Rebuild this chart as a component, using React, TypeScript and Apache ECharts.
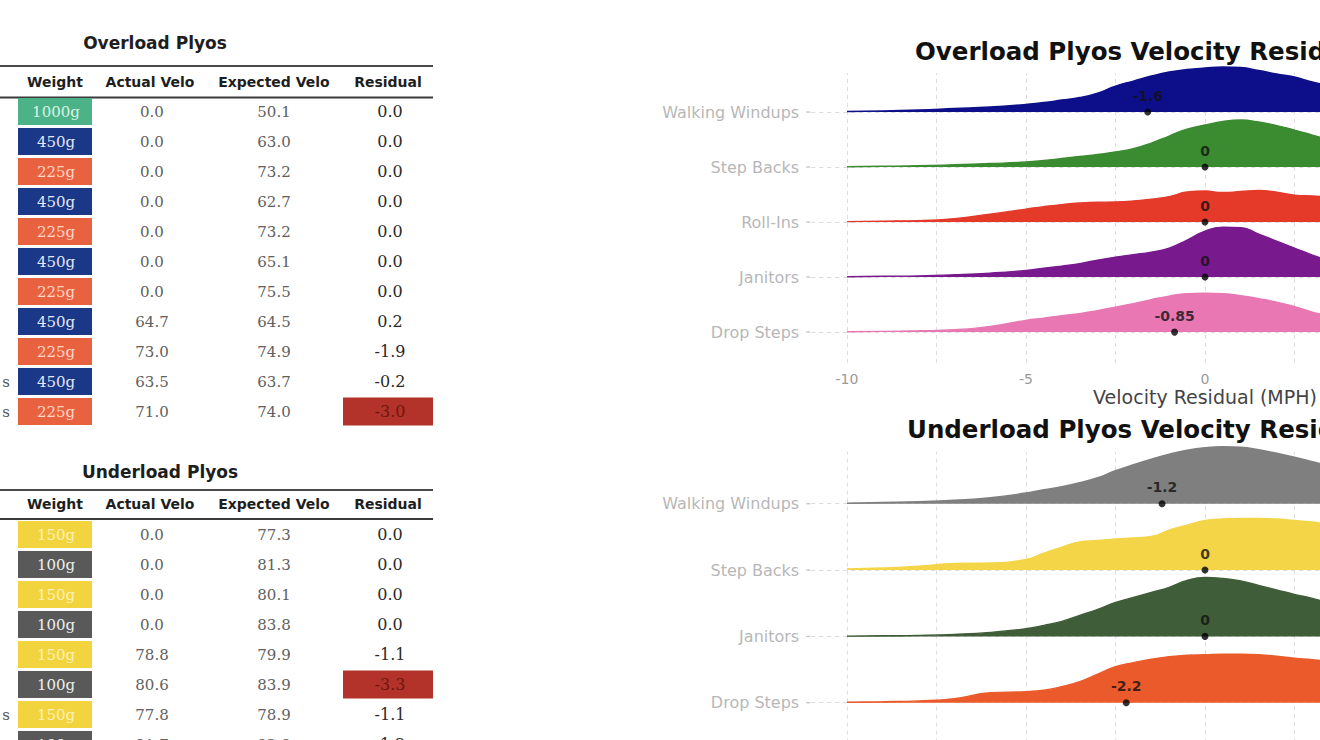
import React, { useEffect, useRef } from "react";
import * as echarts from "echarts";

// ---------------- Table data ----------------
const TABLE_HEADERS = ["Weight", "Actual Velo", "Expected Velo", "Residual"];

const OVER_TABLE_TITLE = "Overload Plyos";
// only the last letter of the row labels is inside the picture
const OVER_ROW_LABELS = ["", "", "", "", "", "", "", "", "", "s", "s"];
const OVER_WEIGHTS = ["1000g", "450g", "225g", "450g", "225g", "450g", "225g", "450g", "225g", "450g", "225g"];
const OVER_ACTUAL = [0, 0, 0, 0, 0, 0, 0, 64.7, 73.0, 63.5, 71.0];
const OVER_EXPECTED = [50.1, 63.0, 73.2, 62.7, 73.2, 65.1, 75.5, 64.5, 74.9, 63.7, 74.0];
const OVER_RESIDUAL = [0, 0, 0, 0, 0, 0, 0, 0.2, -1.9, -0.2, -3.0];

const UNDER_TABLE_TITLE = "Underload Plyos";
const UNDER_ROW_LABELS = ["", "", "", "", "", "", "s", "s"];
const UNDER_WEIGHTS = ["150g", "100g", "150g", "100g", "150g", "100g", "150g", "100g"];
const UNDER_ACTUAL = [0, 0, 0, 0, 78.8, 80.6, 77.8, 81.7];
const UNDER_EXPECTED = [77.3, 81.3, 80.1, 83.8, 79.9, 83.9, 78.9, 82.9];
const UNDER_RESIDUAL = [0, 0, 0, 0, -1.1, -3.3, -1.1, -1.2];

// ---------------- Ridgeline data ----------------
const DENSITY_X = [-10, -9, -8, -7, -6, -5, -4.5, -4, -3.5, -3, -2.5, -2, -1.5, -1, -0.5, 0, 0.5, 1, 1.5, 2, 2.5, 3, 3.5, 4, 5, 6, 7, 8, 9, 10];
const X_GRID_LINES = [-10, -7.5, -5, -2.5, 0, 2.5, 5, 7.5, 10];

const OVER_TITLE = "Overload Plyos Velocity Residuals";
const OVER_DRILLS = ["Walking Windups", "Step Backs", "Roll-Ins", "Janitors", "Drop Steps"];
const OVER_MEANS = [-1.6, 0, 0, 0, -0.85];
const OVER_WALKING = [0.5, 1, 2, 3.5, 5, 7.7, 9.5, 12, 14.5, 19, 26, 31, 36, 40, 42.5, 44, 45, 44.5, 41.5, 38, 35, 30, 26, 21, 12, 6, 2.5, 1, 0.5, 0.2];
const OVER_STEPBACKS = [0.3, 0.8, 1.3, 2.3, 3.5, 5, 6.5, 8.5, 10.5, 12.5, 15, 18.5, 24, 31, 38, 42, 45.5, 47, 45, 41.5, 37, 32, 27, 22, 13, 7, 3, 1.2, 0.5, 0.2];
const OVER_ROLLINS = [0.5, 1, 1.5, 3.5, 8, 13, 15.5, 17.5, 19, 19.8, 20, 21, 23, 25.5, 30, 31, 29.5, 30.5, 31.5, 30, 27, 26, 25, 22, 15, 8, 3.5, 1.5, 0.5, 0.2];
const OVER_JANITORS = [0.3, 0.8, 1.2, 2.3, 4, 6.7, 9, 11, 13.5, 17, 20, 22.5, 25, 29, 37, 46, 50, 49.5, 43, 36, 29, 22, 16, 11, 5, 2, 1, 0.5, 0.3, 0.1];
const OVER_DROPSTEPS = [0.3, 0.7, 1.3, 2.3, 5.7, 11.7, 14, 16.5, 18.5, 21.5, 25, 28.5, 32.5, 36, 38.5, 39, 38.5, 36.5, 33.5, 30, 25.5, 20, 16, 12, 6, 2.5, 1, 0.5, 0.2, 0.1];

const UNDER_TITLE = "Underload Plyos Velocity Residuals";
const UNDER_DRILLS = ["Walking Windups", "Step Backs", "Janitors", "Drop Steps"];
const UNDER_MEANS = [-1.2, 0, 0, -2.2];
const UNDER_WALKING = [0.5, 1.2, 2, 3.5, 6, 10.7, 14, 17, 21, 26, 33, 39, 44.5, 49.5, 53.5, 56, 57, 56.5, 54, 50.5, 46.5, 42, 37, 31, 20, 11, 5, 2, 0.8, 0.3];
const UNDER_STEPBACKS = [1, 2, 3.8, 6.5, 7, 10.7, 17, 23, 28, 29.5, 31, 32, 33.5, 40, 45, 49.5, 51, 51.5, 51.5, 51, 49.5, 48, 45, 41, 30, 19, 10, 4, 1.5, 0.5];
const UNDER_JANITORS = [0.3, 0.6, 1, 2, 4, 7.7, 11, 15, 21, 27, 34, 39, 44, 49, 56, 59, 58, 55.5, 51, 46.5, 42, 38, 33, 28, 18, 10, 4.5, 1.8, 0.7, 0.3];
const UNDER_DROPSTEPS = [0.5, 1, 1.8, 4, 10, 11, 12.5, 16, 21, 28.5, 36, 40, 43.5, 46, 47.5, 48, 48.5, 48.5, 48, 46.5, 44.5, 43, 41, 38, 29, 19, 10, 4, 1.5, 0.5];

const X_AXIS_NAME = "Velocity Residual (MPH)";

// ---------------- Styles ----------------
const WEIGHT_FILL: Record<string, string> = {
  "1000g": "#4bb387",
  "450g": "#1a3788",
  "225g": "#e8623f",
  "150g": "#f2d43f",
  "100g": "#595959",
};
const WEIGHT_TEXT: Record<string, string> = {
  "1000g": "#d9f3e6",
  "450g": "#e4e8f6",
  "225g": "#ffd6c8",
  "150g": "#fff2b5",
  "100g": "#eeeeee",
};
const OVER_COLORS = ["#0d0f8a", "#3b8b31", "#e5392a", "#79198e", "#e877b3"];
const UNDER_COLORS = ["#7f7f7f", "#f4d547", "#3f5d38", "#eb5a2a"];

const SANS = '"DejaVu Sans", "Noto Sans", sans-serif';
const NUM = '"DejaVu Serif", serif';

type TableLayout = {
  titleX: number;
  titleY: number;
  ruleTop: number;
  headerY: number;
  ruleBottom: number;
  row0: number;
};

function txt(text: string, x: number, y: number, font: string, fill: string, align = "center") {
  return {
    type: "text",
    silent: true,
    z: 50,
    style: {
      text,
      x,
      y,
      font,
      fill,
      align,
      textAlign: align,
      verticalAlign: "middle",
      textVerticalAlign: "middle",
    },
  };
}

function tableElements(
  title: string,
  lay: TableLayout,
  labels: string[],
  weights: string[],
  actual: number[],
  expected: number[],
  residual: number[]
) {
  const els: any[] = [];
  const colX = [55, 152, 274, 390];
  els.push(txt(title, lay.titleX, lay.titleY, `bold 17px ${SANS}`, "#1e1e1e"));
  els.push({ type: "line", silent: true, shape: { x1: 0, y1: lay.ruleTop, x2: 433, y2: lay.ruleTop }, style: { stroke: "#4a4a4a", lineWidth: 2 } });
  TABLE_HEADERS.forEach((h, i) => els.push(txt(h, i === 3 ? 388 : i === 1 ? 150 : colX[i], lay.headerY, `bold 14px ${SANS}`, "#1e1e1e")));
  els.push({ type: "line", silent: true, shape: { x1: 0, y1: lay.ruleBottom, x2: 433, y2: lay.ruleBottom }, style: { stroke: "#3a3a3a", lineWidth: 2 } });
  weights.forEach((w, i) => {
    const yc = lay.row0 + i * 30;
    if (labels[i]) els.push(txt(labels[i], 6, yc, `15px ${NUM}`, "#555"));
    els.push({ type: "rect", silent: true, shape: { x: 18, y: yc - 13.5, width: 74, height: 27 }, style: { fill: WEIGHT_FILL[w] } });
    els.push(txt(w, 56, yc, `15px ${NUM}`, WEIGHT_TEXT[w]));
    els.push(txt(actual[i].toFixed(1), colX[1], yc, `15px ${NUM}`, "#606060"));
    els.push(txt(expected[i].toFixed(1), colX[2], yc, `15px ${NUM}`, "#606060"));
    const hi = residual[i] <= -3;
    if (hi) {
      els.push({ type: "rect", silent: true, shape: { x: 343, y: yc - 14, width: 90, height: 28 }, style: { fill: "#b3332a" } });
    }
    els.push(txt(residual[i].toFixed(1), colX[3], yc, `16px ${NUM}`, hi ? "#6e1710" : "#2a2a2a"));
  });
  return els;
}

function ridgeSeries(gridIdx: number, drills: string[], dens: number[][], colors: string[], means: number[], scale: number) {
  const n = drills.length;
  const series: any[] = [];
  series.push({
    type: "scatter",
    xAxisIndex: gridIdx,
    yAxisIndex: gridIdx,
    data: [],
    silent: true,
    z: 1,
    markLine: {
      silent: true,
      z: 1,
      symbol: ["none", "none"],
      label: { show: false },
      lineStyle: { color: "#dcdcdc", type: [4, 4], width: 1 },
      data: [
        ...X_GRID_LINES.map((v) => ({ xAxis: v })),
        ...drills.map((_, i) => ({ yAxis: n - 1 - i })),
      ],
    },
  });
  drills.forEach((d, i) => {
    const base = n - 1 - i;
    series.push({
      type: "line",
      name: d,
      xAxisIndex: gridIdx,
      yAxisIndex: gridIdx,
      data: DENSITY_X.map((x, k) => [x, base + dens[i][k] / scale]),
      smooth: 0.5,
      symbol: "none",
      showSymbol: false,
      silent: true,
      clip: false,
      lineStyle: { color: colors[i], width: 1.4 },
      areaStyle: { color: colors[i], opacity: 1, origin: base },
      z: 10 + i,
    });
  });
  series.push({
    type: "scatter",
    xAxisIndex: gridIdx,
    yAxisIndex: gridIdx,
    silent: true,
    clip: false,
    data: drills.map((d, i) => ({ value: [-11, n - 1 - i], name: d })),
    symbol: "rect",
    symbolSize: [4, 1.3],
    symbolOffset: [-3, 0],
    itemStyle: { color: "#b5b5b5" },
    label: {
      show: true,
      position: "left",
      distance: 7,
      formatter: (p: any) => p.name,
      color: "#a3a3a3",
      fontSize: 16,
      fontFamily: SANS,
    },
    z: 30,
  });
  series.push({
    type: "scatter",
    xAxisIndex: gridIdx,
    yAxisIndex: gridIdx,
    silent: true,
    clip: false,
    data: means.map((m, i) => [m, n - 1 - i]),
    symbolSize: 7,
    itemStyle: { color: "#000" },
    label: {
      show: true,
      position: "top",
      distance: 6,
      formatter: (p: any) => String(p.value[0]),
      color: "#111",
      fontWeight: "bold",
      fontSize: 14,
      fontFamily: SANS,
    },
    z: 40,
  });
  return series;
}

function xAxisCfg(gridIndex: number) {
  return {
    gridIndex,
    type: "value",
    min: -11,
    max: 11,
    axisLine: { show: false },
    axisTick: { show: false },
    splitLine: { show: false },
    axisLabel: {
      color: "#9a9a9a",
      fontSize: 14,
      fontFamily: SANS,
      margin: 9,
      formatter: (v: number) => (Math.abs(v) > 10 ? "" : String(v)),
    },
    name: X_AXIS_NAME,
    nameLocation: "middle",
    nameGap: 25,
    nameTextStyle: { color: "#444", fontSize: 19, fontFamily: SANS },
  };
}

export default function App() {
  const ref = useRef<HTMLDivElement>(null);

  useEffect(() => {
    if (!ref.current) return;
    const chart = echarts.init(ref.current, undefined, { renderer: "svg" });

    const graphics = [
      ...tableElements(
        OVER_TABLE_TITLE,
        { titleX: 155, titleY: 43, ruleTop: 66, headerY: 82, ruleBottom: 97.5, row0: 111.5 },
        OVER_ROW_LABELS,
        OVER_WEIGHTS,
        OVER_ACTUAL,
        OVER_EXPECTED,
        OVER_RESIDUAL
      ),
      ...tableElements(
        UNDER_TABLE_TITLE,
        { titleX: 160, titleY: 472, ruleTop: 490, headerY: 504, ruleBottom: 519, row0: 534.5 },
        UNDER_ROW_LABELS,
        UNDER_WEIGHTS,
        UNDER_ACTUAL,
        UNDER_EXPECTED,
        UNDER_RESIDUAL
      ),
      txt(OVER_TITLE, 915, 51, `bold 24.5px ${SANS}`, "#111", "left"),
      txt(UNDER_TITLE, 907, 429, `bold 24.5px ${SANS}`, "#111", "left"),
    ];

    const option: any = {
      animation: false,
      backgroundColor: "#ffffff",
      grid: [
        { left: 811.2, top: 73, width: 787.6, height: 289.9 },
        { left: 811.2, top: 452, width: 787.6, height: 290.5 },
      ],
      xAxis: [xAxisCfg(0), xAxisCfg(1)],
      yAxis: [
        { gridIndex: 0, type: "value", min: -0.56, max: 4.71, show: false },
        { gridIndex: 1, type: "value", min: -0.6, max: 3.78, show: false },
      ],
      graphic: { elements: graphics },
      series: [
        ...ridgeSeries(0, OVER_DRILLS, [OVER_WALKING, OVER_STEPBACKS, OVER_ROLLINS, OVER_JANITORS, OVER_DROPSTEPS], OVER_COLORS, OVER_MEANS, 55),
        ...ridgeSeries(1, UNDER_DRILLS, [UNDER_WALKING, UNDER_STEPBACKS, UNDER_JANITORS, UNDER_DROPSTEPS], UNDER_COLORS, UNDER_MEANS, 66.33),
      ],
    };
    chart.setOption(option);
    return () => chart.dispose();
  }, []);

  return (
    <div style={{ position: "fixed", left: 0, top: 0, width: 1320, height: 740, overflow: "hidden", background: "#fff" }}>
      <div ref={ref} style={{ width: 1620, height: 820 }} />
    </div>
  );
}
